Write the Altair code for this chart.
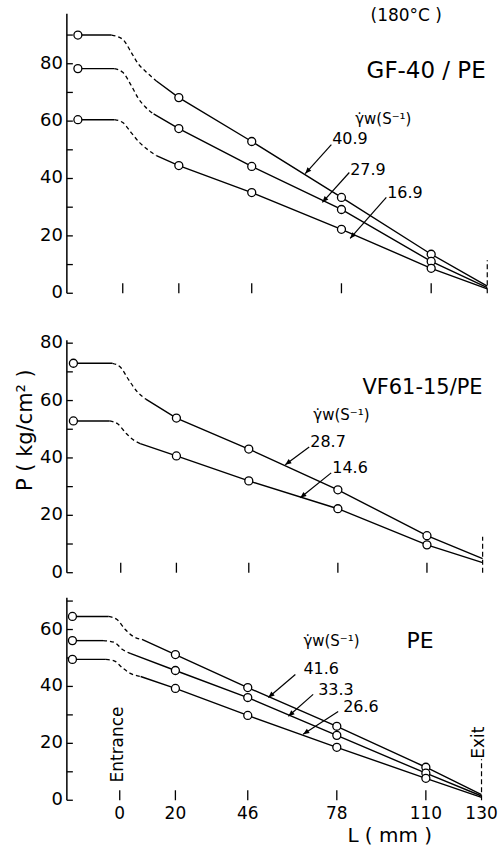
import math
import altair as alt
import pandas as pd

FONT = "DejaVu Sans"
INK = "black"

# Pressure-tap positions along the die (mm) and the die exit
TAP_L = [20, 46, 78, 110]
EXIT_L = 130
TICK_L = [0, 20, 46, 78, 110]
LABEL_L = [0, 20, 46, 78, 110, 130]

# ---- GF-40/PE ----
GF_RATES = ["40.9", "27.9", "16.9"]
GF_RES_L = -16
GF_RES_P = [90.0, 78.3, 60.5]
GF_TAP_P = [[68.2, 52.9, 33.4, 13.6],
            [57.4, 44.2, 29.2, 11.1],
            [44.5, 35.1, 22.3, 8.7]]
GF_EXIT_P = [2.5, 2.0, 1.5]
GF_ENTRY_L = [[-4, 0, 3, 5.5, 8, 12],
              [-3, 0, 3, 5.5, 8, 11],
              [-3, 0, 3, 6, 9, 12]]
GF_ENTRY_P = [[90, 88.5, 84, 80, 77.5, 74],
              [78.3, 77, 72.5, 68, 65, 62.5],
              [60.5, 59.5, 56, 52.5, 50, 48]]
GF_YTICKS = [0, 10, 20, 30, 40, 50, 60, 70, 80, 90]
GF_YLABELS = [0, 20, 40, 60, 80]

# ---- VF61-15/PE ----
VF_RATES = ["28.7", "14.6"]
VF_RES_L = -17
VF_RES_P = [73.0, 52.9]
VF_TAP_P = [[53.9, 43.1, 28.9, 12.9],
            [40.7, 32.0, 22.3, 9.7]]
VF_EXIT_P = [4.9, 3.5]
VF_ENTRY_L = [[-3, 0, 3, 6, 9],
              [-4, -1, 2, 5, 7]]
VF_ENTRY_P = [[73, 71.5, 67, 63, 60.5],
              [52.9, 51.8, 48.5, 46, 45]]
VF_YTICKS = [0, 10, 20, 30, 40, 50, 60, 70, 80]
VF_YLABELS = [0, 20, 40, 60, 80]

# ---- PE ----
PE_RATES = ["41.6", "33.3", "26.6"]
PE_RES_L = -17
PE_RES_P = [64.6, 56.1, 49.5]
PE_TAP_P = [[51.2, 39.6, 26.0, 11.6],
            [45.6, 36.1, 22.8, 9.5],
            [39.3, 29.8, 18.6, 7.7]]
PE_EXIT_P = [2.0, 1.5, 1.0]
PE_ENTRY_L = [[-4, -1, 2, 5, 8],
              [-6, -2, 1, 4],
              [-5, -2, 1, 4, 7.5]]
PE_ENTRY_P = [[64.6, 63.5, 60, 57.5, 56.5],
              [56.1, 55.5, 53, 51.5],
              [49.5, 49, 46.5, 44.5, 43.5]]
PE_YTICKS = [0, 10, 20, 30, 40, 50, 60, 70]
PE_YLABELS = [0, 20, 40, 60]

SHEAR = "\u03b3\u0307w(S\u207b\u00b9)"
W = 435

ARROW_HEAD = "M0,0 L-0.42,1 L0.42,1 Z"


def panel(cfg):
    h = cfg["height"]
    x0, x1 = cfg["x_dom"]
    xs = alt.Scale(domain=[x0, x1], nice=False, zero=False)
    ys = alt.Scale(domain=[0, cfg["y_max"]], nice=False, zero=False)
    kx = W / (x1 - x0)
    ky = h / cfg["y_max"]

    def X(f, axis=None):
        return alt.X(f, type="quantitative", scale=xs, axis=axis)

    def Y(f, axis=None):
        return alt.Y(f, type="quantitative", scale=ys, axis=axis)

    solid, dashed, pts = [], [], []
    for i, r in enumerate(cfg["rates"]):
        el, ep = cfg["entry_l"][i], cfg["entry_p"][i]
        solid += [{"L": cfg["res_l"], "P": cfg["res_p"][i], "seg": r + "a"},
                  {"L": el[0], "P": ep[0], "seg": r + "a"}]
        dashed += [{"L": l, "P": p, "seg": r} for l, p in zip(el, ep)]
        main_l = [el[-1]] + TAP_L + [EXIT_L]
        main_p = [ep[-1]] + cfg["tap_p"][i] + [cfg["exit_p"][i]]
        solid += [{"L": l, "P": p, "seg": r + "b"} for l, p in zip(main_l, main_p)]
        pts += [{"L": l, "P": p} for l, p in
                zip([cfg["res_l"]] + TAP_L, [cfg["res_p"][i]] + cfg["tap_p"][i])]

    # bottom axis line only; labels are drawn as text marks below
    x_axis = alt.Axis(labels=False, ticks=False, title=None, grid=False)

    lines = alt.Chart(pd.DataFrame(solid)).mark_line(color=INK, strokeWidth=1.4).encode(
        x=X("L", x_axis), y=Y("P"), detail="seg:N")
    entry = alt.Chart(pd.DataFrame(dashed)).mark_line(
        color=INK, strokeWidth=1.3, strokeDash=[4, 3], interpolate="monotone").encode(
        x=X("L"), y=Y("P"), detail="seg:N")
    dots = alt.Chart(pd.DataFrame(pts)).mark_point(
        shape="circle", size=64, filled=True, fill="white", stroke=INK, strokeWidth=1.3,
        opacity=1).encode(x=X("L"), y=Y("P"))

    # axis furniture: y spine, inward ticks, exit marker
    spine = alt.Chart(pd.DataFrame({"a": [0], "b": [cfg["axis_top"]]})).mark_rule(
        color=INK, strokeWidth=1.5).encode(x=alt.value(0), y=Y("a"), y2="b")
    yticks = alt.Chart(pd.DataFrame({"v": cfg["y_ticks"]})).mark_rule(
        color=INK, strokeWidth=1.3).encode(y=Y("v"), x=alt.value(0), x2=alt.value(6))
    xticks = alt.Chart(pd.DataFrame({"v": TICK_L})).mark_rule(
        color=INK, strokeWidth=1.3).encode(x=X("v"), y=alt.value(h), y2=alt.value(h - 10))
    exit_mark = alt.Chart(pd.DataFrame({"L": [EXIT_L], "a": [0], "b": [cfg["exit_top"]]})).mark_rule(
        color=INK, strokeWidth=1.2, strokeDash=[5, 3]).encode(x=X("L"), y=Y("a"), y2="b")
    ylabels = alt.Chart(pd.DataFrame({"v": cfg["y_labels"]})).mark_text(
        align="right", baseline="middle", font=FONT, fontSize=18, color=INK).encode(
        y=Y("v"), x=alt.value(-4), text=alt.Text("v:Q", format="d"))

    layers = [lines, entry, spine, yticks, xticks, exit_mark, ylabels, dots]

    if cfg["bottom"]:
        layers.append(alt.Chart(pd.DataFrame({"v": LABEL_L})).mark_text(
            align="center", baseline="middle", font=FONT, fontSize=17, color=INK).encode(
            x=X("v"), y=alt.value(h + 14), text=alt.Text("v:Q", format="d")))

    # leader arrows from the shear-rate labels to their curves
    arrows = []
    for l1, p1, l2, p2 in cfg["arrows"]:
        dx = (l2 - l1) * kx
        dy = -(p2 - p1) * ky
        ang = math.degrees(math.atan2(dx, -dy)) % 360
        arrows.append({"l1": l1, "p1": p1, "l2": l2, "p2": p2, "ang": ang})
    adf = pd.DataFrame(arrows)
    layers.append(alt.Chart(adf).mark_rule(color=INK, strokeWidth=1.2).encode(
        x=X("l1"), y=Y("p1"), x2="l2", y2="p2"))
    layers.append(alt.Chart(adf).mark_point(
        shape=ARROW_HEAD, size=150, filled=True, color=INK, opacity=1).encode(
        x=X("l2"), y=Y("p2"), angle=alt.Angle("ang:Q", scale=None)))

    left = pd.DataFrame(cfg["notes_left"], columns=["L", "P", "text", "size"])
    layers.append(alt.Chart(left).mark_text(
        align="left", baseline="middle", font=FONT, color=INK).encode(
        x=X("L"), y=Y("P"), text="text:N",
        size=alt.Size("size:Q", scale=None, legend=None)))

    center = pd.DataFrame(cfg["notes_center"], columns=["L", "P", "text", "size", "angle"])
    layers.append(alt.Chart(center).mark_text(
        align="center", baseline="middle", font=FONT, color=INK).encode(
        x=X("L"), y=Y("P"), text="text:N",
        size=alt.Size("size:Q", scale=None, legend=None),
        angle=alt.Angle("angle:Q", scale=None)))

    if cfg.get("y_title"):
        layers.append(alt.Chart(pd.DataFrame({"P": [cfg["y_title_p"]], "t": [cfg["y_title"]]})).mark_text(
            angle=270, fontSize=21, font=FONT, color=INK, baseline="middle").encode(
            x=alt.value(-41), y=Y("P"), text="t:N"))
    if cfg.get("x_title"):
        layers.append(alt.Chart(pd.DataFrame({"L": [cfg["x_title_l"]], "t": [cfg["x_title"]]})).mark_text(
            fontSize=20, font=FONT, color=INK, baseline="middle").encode(
            x=X("L"), y=alt.value(h + 36), text="t:N"))

    return alt.layer(*layers).properties(width=W, height=h)


gf = panel({
    "height": 280, "y_max": 97.4, "axis_top": 97.4, "x_dom": [-19.93, 134.9],
    "rates": GF_RATES, "res_l": GF_RES_L, "res_p": GF_RES_P, "tap_p": GF_TAP_P,
    "exit_p": GF_EXIT_P, "entry_l": GF_ENTRY_L, "entry_p": GF_ENTRY_P,
    "y_ticks": GF_YTICKS, "y_labels": GF_YLABELS, "exit_top": 11.5, "bottom": False,
    "arrows": [(74.4, 51.8, 65.1, 41.7), (80.8, 42.1, 71.2, 31.7), (94.0, 33.4, 81.1, 19.1)],
    "notes_left": [(82.9, 60.9, SHEAR, 15), (74.7, 53.9, "40.9", 16),
                   (81.1, 42.8, "27.9", 16), (94.3, 34.8, "16.9", 16)],
    "notes_center": [(101.1, 96.7, "(180°C )", 17, 0), (108.2, 77.6, "GF-40 / PE", 23, 0)],
})

vf = panel({
    "height": 255, "y_max": 88.7, "axis_top": 81.0, "x_dom": [-19.35, 136.6],
    "rates": VF_RATES, "res_l": VF_RES_L, "res_p": VF_RES_P, "tap_p": VF_TAP_P,
    "exit_p": VF_EXIT_P, "entry_l": VF_ENTRY_L, "entry_p": VF_ENTRY_P,
    "y_ticks": VF_YTICKS, "y_labels": VF_YLABELS, "exit_top": 12.5, "bottom": False,
    "arrows": [(67.7, 43.8, 59.1, 37.6), (75.6, 34.8, 64.5, 26.1)],
    "notes_left": [(69.2, 55.0, SHEAR, 15), (68.1, 45.6, "28.7", 16), (76.0, 36.5, "14.6", 16)],
    "notes_center": [(108.4, 64.3, "VF61-15/PE", 21, 0)],
    "y_title": "P ( kg/cm² )", "y_title_p": 49.7,
})

pe = panel({
    "height": 203, "y_max": 71.2, "axis_top": 71.2, "x_dom": [-19.0, 137.0],
    "rates": PE_RATES, "res_l": PE_RES_L, "res_p": PE_RES_P, "tap_p": PE_TAP_P,
    "exit_p": PE_EXIT_P, "entry_l": PE_ENTRY_L, "entry_p": PE_ENTRY_P,
    "y_ticks": PE_YTICKS, "y_labels": PE_YLABELS, "exit_top": 14.4, "bottom": True,
    "arrows": [(63.1, 44.2, 53.4, 36.1), (69.5, 37.2, 60.6, 29.5), (78.5, 31.2, 65.9, 23.2)],
    "notes_left": [(66.0, 55.8, SHEAR, 15), (66.0, 46.0, "41.6", 16),
                   (71.3, 38.9, "33.3", 16), (80.3, 32.6, "26.6", 16)],
    "notes_center": [(107.9, 55.8, "PE", 22, 0), (-0.5, 19.6, "Entrance", 17, 270),
                     (129.2, 20.2, "Exit", 17, 270)],
    "x_title": "L ( mm )", "x_title_l": 97,
})

chart = alt.vconcat(gf, vf, pe, spacing=25, bounds="flush").properties(
    padding={"left": 14, "top": 6, "right": 0, "bottom": 2}
).configure_view(stroke=None).configure_axis(
    domainColor=INK, domainWidth=1.5
)

chart.save("out.html", embed_options={"renderer": "svg", "actions": False})
